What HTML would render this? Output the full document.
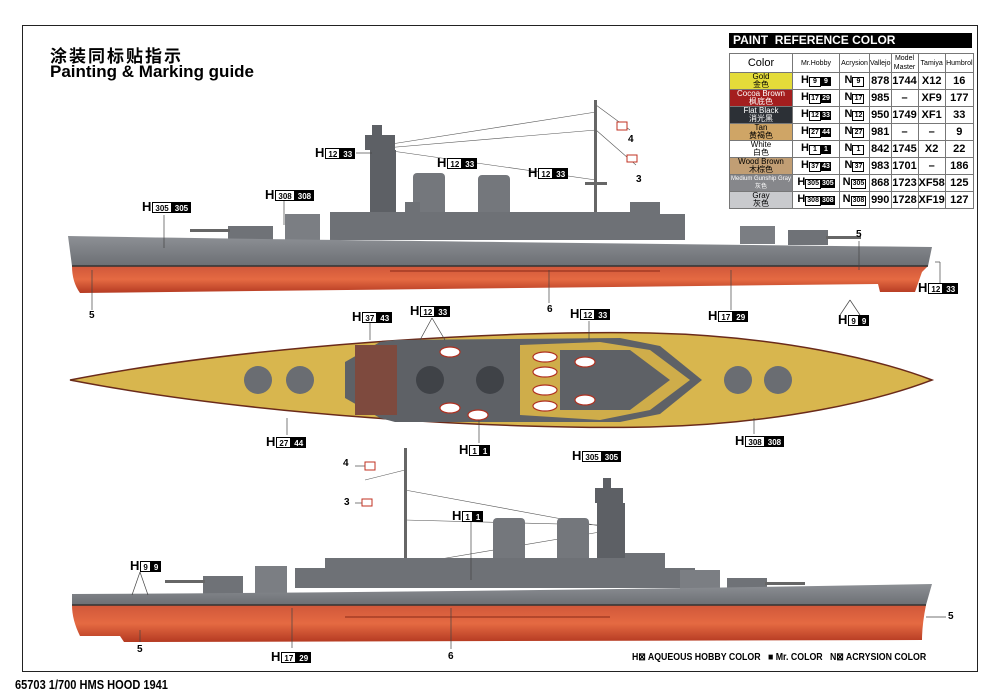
<!DOCTYPE html>
<html><head><meta charset="utf-8"><style>
body{margin:0;width:984px;height:698px;background:#fff;position:relative;overflow:hidden;font-family:"Liberation Sans","Noto Sans CJK SC",sans-serif}
.abs{position:absolute}
.lb{position:absolute;font:bold 13px "Liberation Sans",sans-serif;line-height:12px;white-space:nowrap;display:flex;align-items:center}
.lb .w,.lb .k{display:inline-block;font-size:8px;height:11px;line-height:11px;padding:0 2px;min-width:10px;text-align:center;border:1px solid #000;box-sizing:border-box}
.lb .w{background:#fff;color:#000;margin-left:1px}
.lb .k{background:#000;color:#fff}
.n{position:absolute;font:bold 10px "Liberation Sans",sans-serif}
table{border-collapse:collapse;position:absolute;left:729px;top:53px;font:bold 11px "Liberation Sans",sans-serif}
td{border:1px solid #777;height:16px;padding:0;text-align:center;line-height:9px}
td.c{font-size:8px;font-weight:normal;line-height:8px}
td.h{font-size:7px;font-weight:normal}
.bx{display:inline-block;border:1px solid #000;font-size:7px;line-height:8px;padding:0 1px;min-width:8px}
.bk{display:inline-block;background:#000;color:#fff;font-size:7px;line-height:9px;padding:0 1px;min-width:8px}
</style></head><body>
<div class="abs" style="left:22px;top:25px;width:956px;height:647px;border:1.5px solid #222;box-sizing:border-box"></div>
<div class="abs" style="left:50px;top:42px;font:bold 17px 'Noto Sans CJK SC',sans-serif;letter-spacing:2px">涂装同标贴指示</div>
<div class="abs" style="left:50px;top:62px;font:bold 17px 'Liberation Sans',sans-serif">Painting &amp; Marking guide</div>
<div class="abs" style="left:15px;top:677px;font:bold 13px 'Liberation Sans',sans-serif;transform:scaleX(.85);transform-origin:left">65703 1/700 HMS HOOD 1941</div>
<div class="abs" style="left:632px;top:652px;font:bold 10px 'Liberation Sans',sans-serif;transform:scaleX(.88);transform-origin:left;white-space:nowrap">H⊠ AQUEOUS HOBBY COLOR &nbsp; ■ Mr. COLOR &nbsp; N⊠ ACRYSION COLOR</div>

<svg class="abs" style="left:0;top:0" width="984" height="698">
<defs>
<linearGradient id="red" x1="0" y1="0" x2="0" y2="1"><stop offset="0" stop-color="#d0573a"/><stop offset=".5" stop-color="#e56a42"/><stop offset="1" stop-color="#b43a22"/></linearGradient>
<linearGradient id="gr" x1="0" y1="0" x2="0" y2="1"><stop offset="0" stop-color="#8d9095"/><stop offset="1" stop-color="#6c6f74"/></linearGradient>
</defs>
<!-- TOP SHIP -->
<g stroke="#555" stroke-width=".6" fill="none">
<line x1="385" y1="145" x2="596" y2="112"/><line x1="385" y1="148" x2="596" y2="130"/><line x1="385" y1="150" x2="596" y2="180"/><line x1="596" y1="105" x2="630" y2="130"/><line x1="596" y1="130" x2="636" y2="165"/>
</g>
<rect x="594" y="100" width="3" height="125" fill="#666"/>
<rect x="585" y="182" width="22" height="3" fill="#666"/>
<path d="M365,135h30v15h-30z M372,125h10v12h-10z M370,150h26v65h-26z" fill="#5d6065"/>
<rect x="413" y="173" width="32" height="55" rx="4" fill="#74777c"/>
<rect x="478" y="175" width="32" height="53" rx="4" fill="#74777c"/>
<path d="M330,212h75v-10h15v10h210v-10h30v12h25v26h-355z" fill="#6e7176"/>
<rect x="285" y="214" width="35" height="26" fill="#7b7e83"/><rect x="228" y="226" width="45" height="14" fill="#6f7277"/><rect x="190" y="229" width="40" height="3" fill="#666"/>
<rect x="740" y="226" width="35" height="18" fill="#7b7e83"/><rect x="788" y="230" width="40" height="15" fill="#6f7277"/><rect x="826" y="236" width="35" height="3" fill="#666"/>
<path d="M68,236 Q300,240 932,247 L928,266 L72,266 Z" fill="url(#gr)"/>
<path d="M72,266 L928,266 L922,272 L915,292 L880,292 L878,284 L80,293 Q72,282 72,266Z" fill="url(#red)"/>
<line x1="72" y1="266" x2="928" y2="266" stroke="#333" stroke-width="1.5"/>
<line x1="390" y1="271" x2="660" y2="271" stroke="#8a2a18" stroke-width="1"/>
<!-- MIDDLE -->
<path d="M70,380 C250,345 500,330 650,333 C780,336 880,360 932,380 C880,400 780,424 650,427 C500,430 250,415 70,380Z" fill="#d8b64e" stroke="#6a2a1a" stroke-width="1.5"/>
<path d="M345,362 L380,342 L395,340 L620,338 L660,346 L702,380 L660,414 L620,422 L395,422 L380,418 L345,398Z" fill="#5e6166"/>
<path d="M520,345 L600,342 L650,350 L690,380 L650,410 L600,420 L520,415Z" fill="#cfad4a"/>
<path d="M560,350h70l40,30l-40,30h-70z" fill="#5e6166"/>
<rect x="355" y="345" width="42" height="70" fill="#7e4a3e"/>
<circle cx="258" cy="380" r="14" fill="#6a6d72"/><circle cx="300" cy="380" r="14" fill="#6a6d72"/>
<circle cx="738" cy="380" r="14" fill="#6a6d72"/><circle cx="778" cy="380" r="14" fill="#6a6d72"/>
<circle cx="430" cy="380" r="14" fill="#3f4247"/><circle cx="490" cy="380" r="14" fill="#3f4247"/>
<g fill="#fff" stroke="#b03020" stroke-width="1.2">
<ellipse cx="450" cy="352" rx="10" ry="5"/><ellipse cx="450" cy="408" rx="10" ry="5"/><ellipse cx="545" cy="357" rx="12" ry="5"/><ellipse cx="545" cy="372" rx="12" ry="5"/><ellipse cx="545" cy="390" rx="12" ry="5"/><ellipse cx="545" cy="406" rx="12" ry="5"/><ellipse cx="585" cy="362" rx="10" ry="5"/><ellipse cx="585" cy="400" rx="10" ry="5"/><ellipse cx="478" cy="415" rx="10" ry="5"/>
</g>
<!-- BOTTOM SHIP -->
<g stroke="#555" stroke-width=".6" fill="none">
<line x1="405" y1="490" x2="600" y2="526"/><line x1="405" y1="520" x2="600" y2="525"/><line x1="405" y1="565" x2="600" y2="532"/><line x1="405" y1="470" x2="365" y2="480"/>
</g>
<rect x="404" y="448" width="3" height="135" fill="#666"/>
<path d="M595,488h28v15h-28z M603,478h8v12h-8z M597,503h28v75h-28z" fill="#5d6065"/>
<rect x="493" y="518" width="32" height="62" rx="4" fill="#74777c"/>
<rect x="557" y="518" width="32" height="62" rx="4" fill="#74777c"/>
<path d="M295,568h30v-10h300v-5h40v15h30v20h-400z" fill="#6e7176"/>
<rect x="255" y="566" width="32" height="30" fill="#7b7e83"/><rect x="203" y="576" width="40" height="18" fill="#6f7277"/><rect x="165" y="580" width="40" height="3" fill="#666"/>
<rect x="680" y="570" width="40" height="24" fill="#7b7e83"/><rect x="727" y="578" width="40" height="16" fill="#6f7277"/><rect x="765" y="582" width="40" height="3" fill="#666"/>
<path d="M72,594 Q500,592 932,584 L926,605 L72,605 Z" fill="url(#gr)"/>
<path d="M72,605 L926,605 Q922,625 922,640 L140,642 L124,642 L120,636 L80,636 Q72,620 72,605Z" fill="url(#red)"/>
<line x1="72" y1="605" x2="926" y2="605" stroke="#333" stroke-width="1.5"/>
<line x1="345" y1="617" x2="610" y2="617" stroke="#8a2a18" stroke-width="1"/>
<!-- leader lines -->
<g stroke="#444" stroke-width=".7">
<line x1="164" y1="215" x2="164" y2="248"/><line x1="284" y1="201" x2="284" y2="225"/><line x1="356" y1="153" x2="372" y2="153"/>
<line x1="935" y1="262" x2="940" y2="262"/><line x1="940" y1="262" x2="940" y2="287"/>
<line x1="850" y1="300" x2="840" y2="315"/><line x1="850" y1="300" x2="860" y2="315"/>
<line x1="92" y1="270" x2="92" y2="310"/><line x1="549" y1="270" x2="549" y2="303"/>
<line x1="731" y1="270" x2="731" y2="310"/><line x1="859" y1="241" x2="859" y2="270"/>
<line x1="370" y1="323" x2="370" y2="340"/><line x1="432" y1="318" x2="420" y2="340"/><line x1="432" y1="318" x2="445" y2="340"/><line x1="589" y1="321" x2="589" y2="340"/>
<line x1="287" y1="418" x2="287" y2="435"/><line x1="479" y1="420" x2="479" y2="443"/><line x1="754" y1="418" x2="754" y2="434"/>
<line x1="471" y1="522" x2="471" y2="580"/><line x1="140" y1="572" x2="132" y2="595"/><line x1="140" y1="572" x2="148" y2="595"/>
<line x1="292" y1="608" x2="292" y2="648"/><line x1="451" y1="608" x2="451" y2="649"/><line x1="926" y1="617" x2="946" y2="617"/><line x1="140" y1="630" x2="140" y2="642"/>
<line x1="355" y1="466" x2="365" y2="466"/><line x1="355" y1="503" x2="362" y2="503"/>
</g>
<g fill="#fff" stroke="#c03020" stroke-width="1"><rect x="617" y="122" width="10" height="8"/><rect x="627" y="155" width="10" height="7"/><rect x="365" y="462" width="10" height="8"/><rect x="362" y="499" width="10" height="7"/></g>
</svg>

<div class="lb" style="left:142px;top:201px">H<span class="w">305</span><span class="k">305</span></div>
<div class="lb" style="left:265px;top:189px">H<span class="w">308</span><span class="k">308</span></div>
<div class="lb" style="left:315px;top:147px">H<span class="w">12</span><span class="k">33</span></div>
<div class="lb" style="left:437px;top:157px">H<span class="w">12</span><span class="k">33</span></div>
<div class="lb" style="left:528px;top:167px">H<span class="w">12</span><span class="k">33</span></div>
<div class="lb" style="left:918px;top:282px">H<span class="w">12</span><span class="k">33</span></div>
<div class="lb" style="left:708px;top:310px">H<span class="w">17</span><span class="k">29</span></div>
<div class="lb" style="left:838px;top:314px">H<span class="w">9</span><span class="k">9</span></div>
<div class="lb" style="left:352px;top:311px">H<span class="w">37</span><span class="k">43</span></div>
<div class="lb" style="left:410px;top:305px">H<span class="w">12</span><span class="k">33</span></div>
<div class="lb" style="left:570px;top:308px">H<span class="w">12</span><span class="k">33</span></div>
<div class="lb" style="left:266px;top:436px">H<span class="w">27</span><span class="k">44</span></div>
<div class="lb" style="left:459px;top:444px">H<span class="w">1</span><span class="k">1</span></div>
<div class="lb" style="left:572px;top:450px">H<span class="w">305</span><span class="k">305</span></div>
<div class="lb" style="left:735px;top:435px">H<span class="w">308</span><span class="k">308</span></div>
<div class="lb" style="left:452px;top:510px">H<span class="w">1</span><span class="k">1</span></div>
<div class="lb" style="left:130px;top:560px">H<span class="w">9</span><span class="k">9</span></div>
<div class="lb" style="left:271px;top:651px">H<span class="w">17</span><span class="k">29</span></div>

<div class="n" style="left:628px;top:134px">4</div><div class="n" style="left:636px;top:174px">3</div>
<div class="n" style="left:856px;top:229px">5</div><div class="n" style="left:89px;top:310px">5</div>
<div class="n" style="left:547px;top:304px">6</div><div class="n" style="left:343px;top:458px">4</div>
<div class="n" style="left:344px;top:497px">3</div><div class="n" style="left:948px;top:611px">5</div>
<div class="n" style="left:137px;top:644px">5</div><div class="n" style="left:448px;top:651px">6</div>

<div class="abs" style="left:729px;top:33px;width:243px;height:15px;background:#000;color:#fff;font:bold 12px 'Liberation Sans',sans-serif;line-height:15px;padding-left:4px;box-sizing:border-box">PAINT &nbsp;REFERENCE COLOR</div>
<table>
<tr><td style="width:62px;font-size:11px;font-weight:normal">Color</td><td class="h" style="width:46px">Mr.Hobby</td><td class="h" style="width:29px">Acrysion</td><td class="h" style="width:20px">Vallejo</td><td class="h" style="width:26px">Model Master</td><td class="h" style="width:25px">Tamiya</td><td class="h" style="width:27px">Humbrol</td></tr>
<tr><td class="c" style="background:#e4dc3a">Gold<br>金色</td><td>H<span class="bx">9</span><span class="bk">9</span></td><td>N<span class="bx">9</span></td><td>878</td><td>1744</td><td>X12</td><td>16</td></tr>
<tr><td class="c" style="background:#a41e1e;color:#fff">Cocoa Brown<br>枫底色</td><td>H<span class="bx">17</span><span class="bk">29</span></td><td>N<span class="bx">17</span></td><td>985</td><td>–</td><td>XF9</td><td>177</td></tr>
<tr><td class="c" style="background:#2c3036;color:#fff">Flat Black<br>消光黑</td><td>H<span class="bx">12</span><span class="bk">33</span></td><td>N<span class="bx">12</span></td><td>950</td><td>1749</td><td>XF1</td><td>33</td></tr>
<tr><td class="c" style="background:#cfa566">Tan<br>黄褐色</td><td>H<span class="bx">27</span><span class="bk">44</span></td><td>N<span class="bx">27</span></td><td>981</td><td>–</td><td>–</td><td>9</td></tr>
<tr><td class="c" style="background:#fff">White<br>白色</td><td>H<span class="bx">1</span><span class="bk">1</span></td><td>N<span class="bx">1</span></td><td>842</td><td>1745</td><td>X2</td><td>22</td></tr>
<tr><td class="c" style="background:#c19e74">Wood Brown<br>木棕色</td><td>H<span class="bx">37</span><span class="bk">43</span></td><td>N<span class="bx">37</span></td><td>983</td><td>1701</td><td>–</td><td>186</td></tr>
<tr><td class="c" style="background:#86878b;color:#fff;font-size:6px">Medium Gunship Gray<br>灰色</td><td>H<span class="bx">305</span><span class="bk">305</span></td><td>N<span class="bx">305</span></td><td>868</td><td>1723</td><td>XF58</td><td>125</td></tr>
<tr><td class="c" style="background:#c9cacd">Gray<br>灰色</td><td>H<span class="bx">308</span><span class="bk">308</span></td><td>N<span class="bx">308</span></td><td>990</td><td>1728</td><td>XF19</td><td>127</td></tr>
</table>
</body></html>
